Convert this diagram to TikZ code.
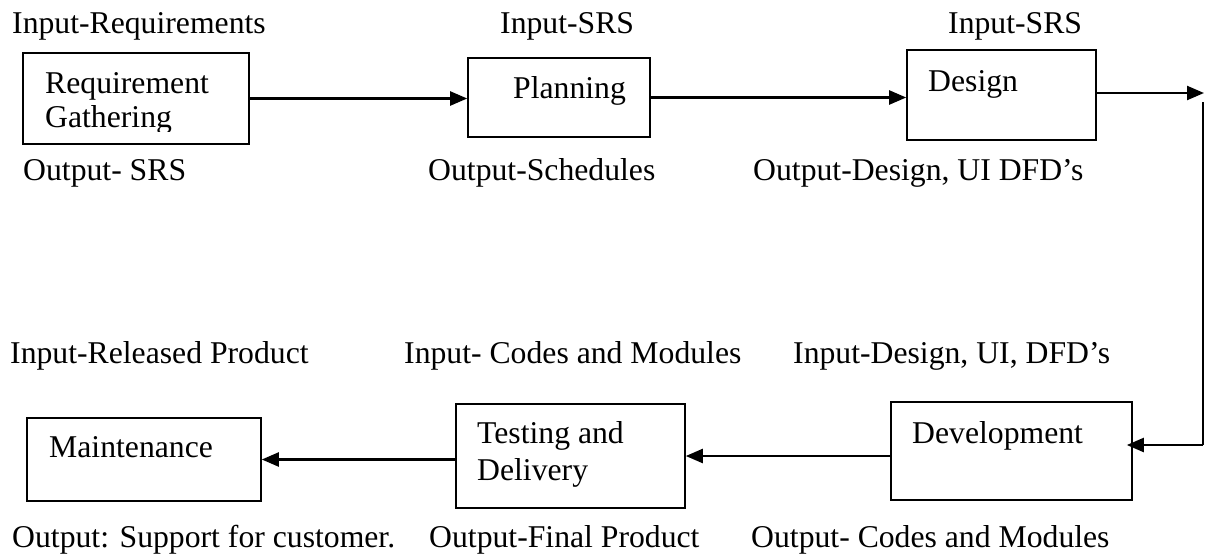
\documentclass[tikz,border=0pt]{standalone}
\usepackage{fontspec}
\setmainfont{Liberation Serif}
\usetikzlibrary{arrows.meta}
\tikzset{
  stage/.style={draw, line width=1.6pt, rectangle, inner sep=0pt},
  txt/.style={anchor=base west, inner sep=0pt, font=\fontsize{31.7}{38}\selectfont},
  flow/.style={line width=2.3pt, -{Triangle[length=17pt,width=14pt]}},
  link/.style={line width=2.3pt}
}
\begin{document}
\begin{tikzpicture}[x=1pt,y=-1pt]
\useasboundingbox (0,0) rectangle (1211,555);

% stage boxes
\node[stage, minimum width=226pt, minimum height=91pt] (req) at (136,98.5) {};
\node[stage, minimum width=182pt, minimum height=79pt] (plan) at (559,97.5) {};
\node[stage, minimum width=189pt, minimum height=90pt] (design) at (1001.5,95) {};
\node[stage, minimum width=241pt, minimum height=98pt] (dev) at (1011.5,451) {};
\node[stage, minimum width=229pt, minimum height=104pt] (test) at (570.5,456) {};
\node[stage, minimum width=234pt, minimum height=83pt] (maint) at (144,459.5) {};

% box captions
\node[txt] (reqA) at (45,93) {Requirement};
\begin{scope}
  \clip (24,54) rectangle (248,131);
  \node[txt] (reqB) at (45,127) {Gathering};
\end{scope}
\node[txt] (planT) at (513,98) {Planning};
\node[txt] (designT) at (928,91) {Design};
\node[txt] (devT) at (912,443) {Development};
\node[txt] (testA) at (477,443) {Testing and};
\node[txt] (testB) at (477,480) {Delivery};
\node[txt] (maintT) at (49,457) {Maintenance};

% inputs and outputs of each stage
\node[txt] (in1) at (12,33) {Input-Requirements};
\node[txt] (in2) at (500,33) {Input-SRS};
\node[txt] (in3) at (948,33) {Input-SRS};
\node[txt] (out1) at (23,180) {Output- SRS};
\node[txt] (out2) at (428,180) {Output-Schedules};
\node[txt] (out3) at (753,180) {Output-Design, UI DFD’s};
\node[txt] (in6) at (10,363) {Input-Released Product};
\node[txt] (in5) at (404,363) {Input- Codes and Modules};
\node[txt] (in4) at (793,363) {Input-Design, UI, DFD’s};
\node[txt] (out6) at (12,547) {Output: Support for customer.};
\node[txt] (out5) at (429,547) {Output-Final Product};
\node[txt] (out4) at (751,547) {Output- Codes and Modules};

% connectors
\coordinate (turnTop) at (1204,93);
\coordinate (downStart) at (1203,102);
\coordinate (downEnd) at (1203,445);

\draw[flow] (req.east) -- (req.east -| plan.west);
\draw[flow] (plan.east) -- (plan.east -| design.west);
\draw[flow] (design.east |- turnTop) -- (turnTop);
\draw[link] (downStart) -- (downEnd);
\draw[flow] (downEnd) -- ([xshift=-6pt]downEnd -| dev.east);
\draw[flow] (dev.west |- test.east) -- (test.east);
\draw[flow] (test.west |- maint.east) -- (maint.east);
\end{tikzpicture}
\end{document}
